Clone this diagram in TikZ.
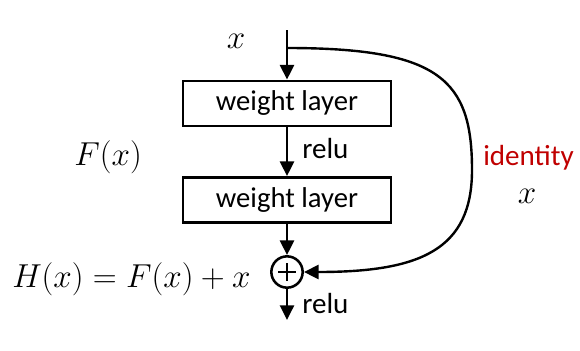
\documentclass[tikz,border=0pt]{standalone}
\usepackage{fontspec}
\setmainfont{Carlito}
\usetikzlibrary{arrows.meta}
\definecolor{idred}{HTML}{C00000}
\begin{document}
\begin{tikzpicture}[x=0.75pt,y=-0.75pt,
  conn/.style={line width=1.8pt,-{Triangle[length=11pt,width=10.5pt]}},
  layerbox/.style={draw,line width=1.9pt,minimum width=156pt,minimum height=34pt,inner sep=0pt,font=\fontsize{21.5}{24}\selectfont},
  lbl/.style={inner sep=0pt,font=\fontsize{21.8}{24}\selectfont},
  mathlbl/.style={inner sep=0pt,font=\fontsize{24}{28}\selectfont},
  sumnode/.style={draw,circle,line width=1.9pt,minimum size=23.5pt,inner sep=0pt}]
\useasboundingbox (0,0) rectangle (580,350);
\coordinate (top) at (287,30);
\coordinate (split) at (287,48);
\coordinate (out) at (287,320);
\node[layerbox] (b1) at (287,103.5) {weight layer};
\node[layerbox] (b2) at (287,200) {weight layer};
\node[sumnode] (sum) at (287,272) {};
\draw[line width=1.7pt] (sum.center) ++(-9,0) -- ++(18,0);
\draw[line width=1.7pt] (sum.center) ++(0,-9) -- ++(0,18);
\draw[conn] (top) -- (b1.north -| top);
\draw[conn] (b1.south -| top) -- (b2.north -| top);
\draw[conn] (b2.south -| top) -- (sum.north);
\draw[conn] (sum.south) -- (out);
\draw[conn] (split) .. controls (440,48) and (472,80) .. (472,170) .. controls (472,250) and (420,272) .. (sum.east);
\node[mathlbl,anchor=base] (xtop) at (236,48) {$x$};
\node[lbl,anchor=base west] (relu1) at (302,158) {relu};
\node[lbl,anchor=base west] (relu2) at (302,313) {relu};
\node[mathlbl,anchor=base west] (fx) at (74,165) {$F(x)$};
\node[mathlbl,anchor=base west] (hx) at (12,287) {$H(x)=F(x)+x$};
\node[lbl,anchor=base west,text=idred] (ident) at (483,165) {identity};
\node[mathlbl,anchor=base] (xid) at (527,203) {$x$};
\end{tikzpicture}
\end{document}
